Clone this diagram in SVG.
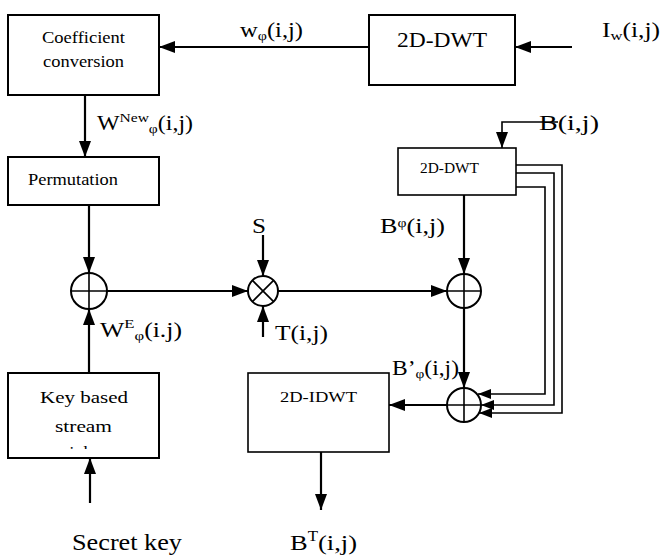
<svg xmlns="http://www.w3.org/2000/svg" width="664" height="556" viewBox="0 0 664 556">
<style>
  .box { fill: #fff; stroke: #000; stroke-width: 2; }
  .tbox { fill: #fff; stroke: #000; stroke-width: 1.6; }
  .ln { fill: none; stroke: #000; stroke-width: 2.2; }
  .thin { fill: none; stroke: #000; stroke-width: 1.6; }
  .op { fill: #fff; stroke: #000; stroke-width: 2; }
  .a { marker-end: url(#arr); }
  .as { marker-end: url(#arrs); }
</style>
<defs>
  <marker id="arr" markerUnits="userSpaceOnUse" markerWidth="16" markerHeight="12" refX="16" refY="6" orient="auto">
    <path d="M0,0 L16,6 L0,12 z" fill="#000"/>
  </marker>
  <marker id="arrs" markerUnits="userSpaceOnUse" markerWidth="13" markerHeight="10" refX="13" refY="5" orient="auto">
    <path d="M0,0 L13,5 L0,10 z" fill="#000"/>
  </marker>
  <clipPath id="keyclip"><rect x="8" y="373" width="151" height="76"/></clipPath>
</defs>
<rect width="664" height="556" fill="#fff"/>

<g id="connectors">
  <line class="ln a" x1="369" y1="47" x2="159" y2="47"/>
  <line class="ln a" x1="572" y1="47" x2="515" y2="47"/>
  <line class="ln a" x1="85" y1="95" x2="85" y2="157"/>
  <line class="ln a" x1="89" y1="205" x2="89" y2="273"/>
  <line class="ln a" x1="89" y1="373" x2="89" y2="309"/>
  <line class="ln a" x1="90" y1="503" x2="90" y2="458"/>
  <line class="ln a" x1="107" y1="291" x2="248" y2="291"/>
  <line class="ln a" x1="263" y1="235" x2="263" y2="276"/>
  <line class="ln a" x1="263" y1="337" x2="263" y2="306"/>
  <line class="ln a" x1="278" y1="291" x2="447" y2="291"/>
  <polyline class="thin a" points="558,122 502,122 502,148"/>
  <line class="ln a" x1="464" y1="195" x2="464" y2="274"/>
  <line class="ln a" x1="464" y1="308" x2="464" y2="388"/>
  <line class="ln a" x1="447" y1="405" x2="389" y2="405"/>
  <line class="ln a" x1="321" y1="452" x2="321" y2="510"/>
  <polyline class="thin as" points="516,165 562,165 562,413 479,413"/>
  <polyline class="thin as" points="516,173 554,173 554,405 481,405"/>
  <polyline class="thin as" points="516,187 545,187 545,394 478,394"/>
</g>

<g font-family="'Liberation Serif', 'Times New Roman', serif" fill="#000">
<g id="coeff">
  <rect class="box" x="8" y="15" width="151" height="80"/>
  <text x="42" y="43" font-size="17" textLength="83" lengthAdjust="spacingAndGlyphs">Coefficient</text>
  <text x="43" y="67" font-size="17" textLength="81" lengthAdjust="spacingAndGlyphs">conversion</text>
</g>

<g id="dwt1">
  <rect class="box" x="369" y="15" width="146" height="70"/>
  <text x="397" y="47" font-size="21" textLength="90" lengthAdjust="spacingAndGlyphs">2D-DWT</text>
</g>

<g id="perm">
  <rect class="box" x="8" y="157" width="151" height="48"/>
  <text x="28" y="185" font-size="17" textLength="90" lengthAdjust="spacingAndGlyphs">Permutation</text>
</g>

<g id="dwt2">
  <rect class="tbox" x="398" y="148" width="118" height="47"/>
  <text x="420" y="173" font-size="14" textLength="59" lengthAdjust="spacingAndGlyphs">2D-DWT</text>
</g>

<g id="idwt">
  <rect class="tbox" x="248" y="373" width="141" height="79"/>
  <text x="280" y="402" font-size="15" textLength="77" lengthAdjust="spacingAndGlyphs">2D-IDWT</text>
</g>

<g id="keybox">
  <rect class="box" x="8" y="373" width="151" height="85"/>
  <text x="40" y="403" font-size="17.5" textLength="88" lengthAdjust="spacingAndGlyphs">Key based</text>
  <text x="55" y="432" font-size="17.5" textLength="57" lengthAdjust="spacingAndGlyphs">stream</text>
  <g clip-path="url(#keyclip)">
    <text x="61" y="458" font-size="17.5" textLength="46" lengthAdjust="spacingAndGlyphs">cipher</text>
  </g>
</g>

<g id="add1">
  <circle class="op" cx="89" cy="291" r="18"/>
  <line class="thin" x1="71" y1="291" x2="107" y2="291"/>
  <line class="thin" x1="89" y1="273" x2="89" y2="309"/>
</g>

<g id="mult">
  <circle class="op" cx="263" cy="291" r="15"/>
  <line class="thin" x1="252.4" y1="280.4" x2="273.6" y2="301.6"/>
  <line class="thin" x1="273.6" y1="280.4" x2="252.4" y2="301.6"/>
</g>

<g id="add2">
  <circle class="op" cx="464" cy="291" r="17"/>
  <line class="thin" x1="447" y1="291" x2="481" y2="291"/>
  <line class="thin" x1="464" y1="274" x2="464" y2="308"/>
</g>

<g id="add3">
  <circle class="op" cx="464" cy="405" r="17"/>
  <line class="thin" x1="447" y1="405" x2="481" y2="405"/>
  <line class="thin" x1="464" y1="388" x2="464" y2="422"/>
</g>

<g id="labels">
  <text x="240" y="37" font-size="20" textLength="63" lengthAdjust="spacingAndGlyphs">w<tspan font-size="13" dy="3">φ</tspan><tspan dy="-3">(i,j)</tspan></text>
  <text x="602" y="37" font-size="20" textLength="58" lengthAdjust="spacingAndGlyphs">I<tspan font-size="13" dy="3">w</tspan><tspan dy="-3">(i,j)</tspan></text>
  <text x="97" y="130" font-size="20" textLength="96" lengthAdjust="spacingAndGlyphs">W<tspan font-size="13" dy="-8">New</tspan><tspan font-size="13" dy="11">φ</tspan><tspan dy="-3">(i,j)</tspan></text>
  <text x="539" y="130" font-size="20" textLength="60" lengthAdjust="spacingAndGlyphs">B(i,j)</text>
  <text x="380" y="233" font-size="20" textLength="65" lengthAdjust="spacingAndGlyphs">B<tspan font-size="12" dy="-6">φ</tspan><tspan dy="6">(i,j)</tspan></text>
  <text x="252" y="233" font-size="20" textLength="14" lengthAdjust="spacingAndGlyphs">S</text>
  <text x="100" y="337" font-size="20" textLength="82" lengthAdjust="spacingAndGlyphs">W<tspan font-size="13" dy="-9">E</tspan><tspan font-size="13" dy="12">φ</tspan><tspan dy="-3">(i.j)</tspan></text>
  <text x="275" y="340" font-size="20" textLength="53" lengthAdjust="spacingAndGlyphs">T(i,j)</text>
  <text x="392" y="375" font-size="20" textLength="67" lengthAdjust="spacingAndGlyphs">B’<tspan font-size="13" dy="3">φ</tspan><tspan dy="-3">(i,j)</tspan></text>
  <text x="72" y="550" font-size="23" textLength="110" lengthAdjust="spacingAndGlyphs">Secret key</text>
  <text x="290" y="550" font-size="22" textLength="67" lengthAdjust="spacingAndGlyphs">B<tspan font-size="14" dy="-9">T</tspan><tspan dy="9">(i,j)</tspan></text>
</g>
</g>
</svg>
